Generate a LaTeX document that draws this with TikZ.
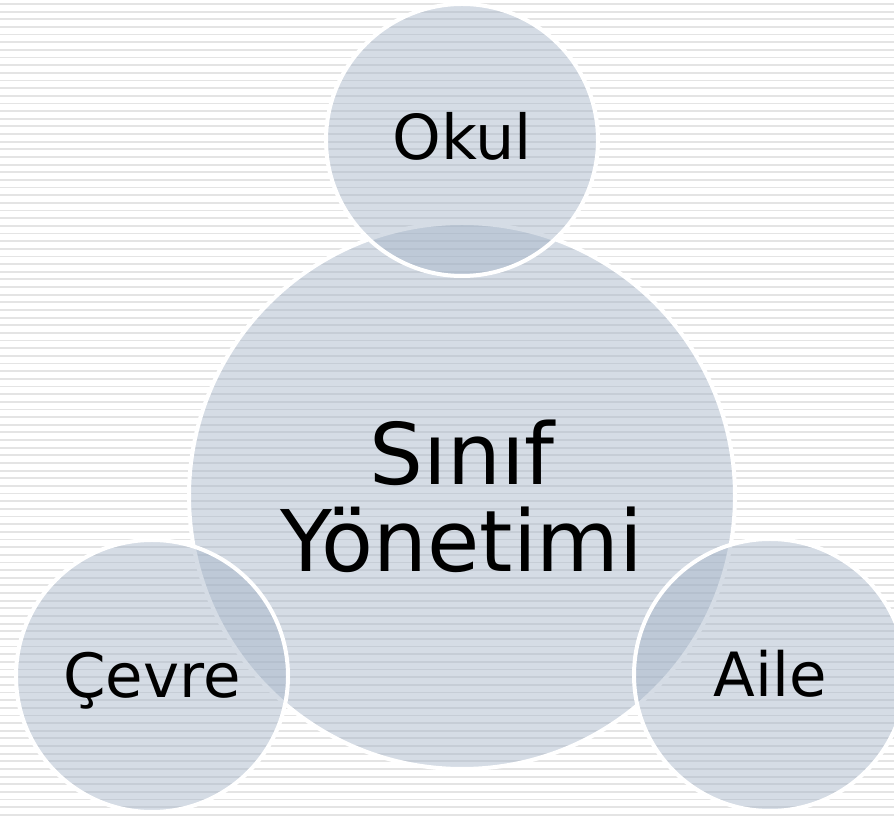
\documentclass[tikz,border=0pt]{standalone}
\usepackage{fontspec}
\setmainfont{DejaVu Sans}
\definecolor{bubblefill}{RGB}{162,178,198}
\definecolor{stripegray}{RGB}{228,228,228}
\tikzset{
  stripeline/.style={draw=stripegray, line width=1.8pt},
  bubble/.style={circle, inner sep=0pt, draw=white, line width=4pt,
    fill=bubblefill, fill opacity=0.45, draw opacity=1, text opacity=1,
    text=black},
}
\begin{document}
\begin{tikzpicture}[x=1pt,y=1pt]
\useasboundingbox (0,0) rectangle (894,816);
\fill[white] (0,0) rectangle (894,816);
\foreach \i in {0,...,106} {
  \draw[stripeline] (0,{812-7.65*\i}) -- (894,{812-7.65*\i});
}
\node[bubble, minimum size=546pt, align=center,
  font=\fontsize{85}{87}\selectfont] (center) at (462,320) {Sınıf\\Yönetimi};
\node[bubble, minimum size=272pt, text height=40pt, text depth=0pt,
  font=\fontsize{62}{70}\selectfont] (okul) at (462,676) {Okul};
\node[bubble, minimum size=272pt, text height=43pt, text depth=0pt,
  font=\fontsize{61}{70}\selectfont] (cevre) at (152,140) {Çevre};
\node[bubble, minimum size=272pt, text height=43pt, text depth=0pt,
  font=\fontsize{61}{70}\selectfont] (aile) at (770,141) {Aile};
\end{tikzpicture}
\end{document}
